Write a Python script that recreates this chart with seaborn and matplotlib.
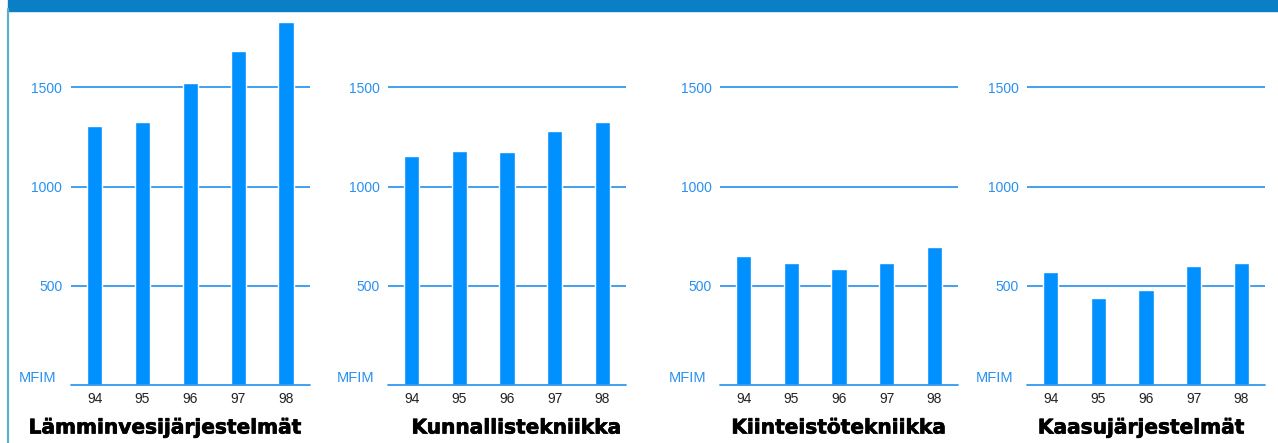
import matplotlib
matplotlib.use("Agg")
import matplotlib.pyplot as plt
import matplotlib.patheffects as pe
import seaborn as sns
import pandas as pd
from matplotlib.patches import Rectangle
from matplotlib.lines import Line2D

years = ["94", "95", "96", "97", "98"]
lamminvesi = [1306, 1327, 1523, 1683, 1829]
kunnallis = [1153, 1178, 1173, 1279, 1325]
kiinteisto = [648, 613, 587, 613, 698]
kaasu = [572, 437, 477, 598, 613]
titles = ["Lämminvesijärjestelmät", "Kunnallistekniikka",
          "Kiinteistötekniikka", "Kaasujärjestelmät"]
yticks = [500, 1000, 1500]
unit_label = "MFIM"

series = [lamminvesi, kunnallis, kiinteisto, kaasu]

sns.set_theme(style="white")
plt.rcParams["font.family"] = ["Liberation Sans", "DejaVu Sans"]

W, H = 1278, 443
fig = plt.figure(figsize=(W / 100, H / 100), dpi=100)

bar_color = "#0090ff"
grid_color = "#3399f0"
label_blue = "#2a90f0"

# axes layout in pixels: (left, right)
ax_px = [(70.7, 310.0), (388.0, 626.0), (720.0, 958.0), (1027.0, 1265.0)]
bottom_px = 385.0
top_px = 8.0
title_cx = [165.5, 516.7, 839.0, 1141.5]

for i, (vals, title) in enumerate(zip(series, titles)):
    l, r = ax_px[i]
    ax = fig.add_axes([l / W, (H - bottom_px) / H, (r - l) / W, (bottom_px - top_px) / H])
    df = pd.DataFrame({"year": years, "value": vals})
    sns.barplot(data=df, x="year", y="value", ax=ax, color=bar_color,
                saturation=1, width=0.32, zorder=3)
    ax.set_xlim(-0.5, 4.5)
    ax.set_ylim(0, 1900)
    ax.set_yticks(yticks)
    ax.set_yticklabels([str(t) for t in yticks])
    ax.set_xlabel("")
    ax.set_ylabel("")
    for s in ax.spines.values():
        s.set_visible(False)
    ax.set_facecolor("none")
    ax.tick_params(axis="y", length=0, pad=6, labelsize=10, labelcolor=label_blue)
    ax.tick_params(axis="x", length=0, pad=5, labelsize=10, labelcolor="#222222")
    for t in yticks:
        ax.axhline(t, color=grid_color, lw=1.3, zorder=1)
    ax.axhline(0, color=grid_color, lw=1.3, zorder=4, clip_on=False)
    ax.annotate(unit_label, xy=(0, 0), xycoords="axes fraction",
                xytext=(-10, 2.0), textcoords="offset points",
                ha="right", va="baseline", fontsize=10.5, color=label_blue)
    fig.text(title_cx[i] / W, (H - 433.5) / H, title, ha="center", va="baseline",
             fontsize=14.5, fontweight="bold", family=["DejaVu Sans"], color="black",
             path_effects=[pe.withStroke(linewidth=0.5, foreground="black")])

# decorative top band and left rule
fig.add_artist(Rectangle((8 / W, (H - 10.5) / H), 1 - 8 / W, 10.5 / H,
                         transform=fig.transFigure, color="#0a7fc5", zorder=0))
fig.add_artist(Line2D([8 / W, 8 / W], [0, (H - 9) / H], transform=fig.transFigure,
                      color="#5fb0c6", lw=1.6))

fig.savefig("out.png", dpi=100)
